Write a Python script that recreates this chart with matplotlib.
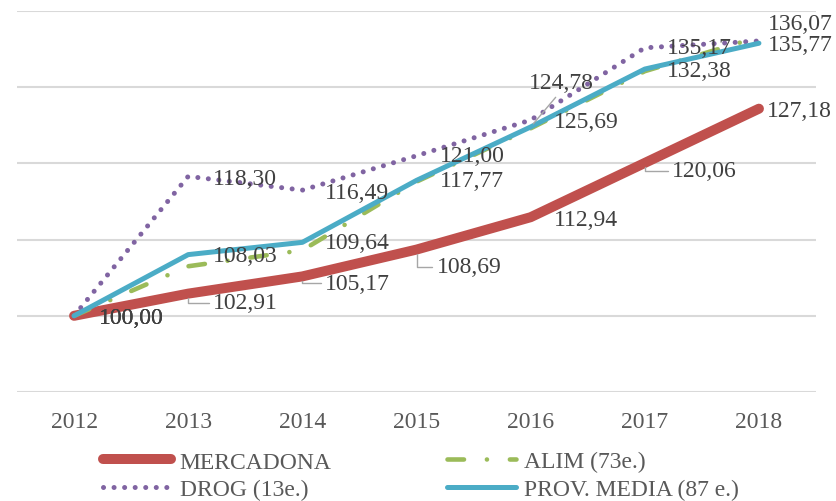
import matplotlib
matplotlib.use('Agg')
import matplotlib.pyplot as plt

plt.rcParams['font.family'] = ['Liberation Serif', 'DejaVu Serif']

years = ['2012', '2013', '2014', '2015', '2016', '2017', '2018']
mercadona = [100.00, 102.91, 105.17, 108.69, 112.94, 120.06, 127.18]
alim = [100.00, 106.5, 108.6, 117.6, 124.6, 132.1, 136.6]
drog = [100.00, 118.30, 116.49, 121.00, 125.69, 135.17, 136.07]
prov = [100.00, 108.03, 109.64, 117.77, 124.78, 132.38, 135.77]

names = ['MERCADONA', 'ALIM (73e.)', 'DROG (13e.)', 'PROV. MEDIA (87 e.)']

# label offsets in pixels (dx right, dy down) from each point
off_merc = [(25, 2), (25, 9), (23, 7), (20, 17), (23, 2), (27, 8), (8, 2)]
off_drog = [(25, 2), (25, 2), (23, 2), (23, 0), (23, 1), (22, 0), (9, -17)]
off_prov = [(25, 2), (25, 1), (23, 0), (23, 0), (-2, -44), (22, 1), (9, 1)]
leader_merc = [False, True, True, True, False, True, False]
leader_prov = [False, False, False, False, True, False, False]

fig = plt.figure(figsize=(8.36, 5.02), dpi=100)
ax = fig.add_axes([17 / 836, 1 - 393 / 502, 799 / 836, 381 / 502])

x = list(range(len(years)))

l_merc, = ax.plot(x, mercadona, color='#C0504D', lw=7.2, solid_capstyle='round',
                  solid_joinstyle='round', zorder=2)
l_alim, = ax.plot(x, alim, color='#9BBB59', lw=3.3, linestyle=(0, (3.6, 5.0, 0.01, 5.0)),
                  dash_capstyle='round', zorder=2.1)
l_drog, = ax.plot(x, drog, color='#8064A2', lw=3.6, linestyle=(0, (0.01, 2.1)),
                  dash_capstyle='round', zorder=2.2)
l_prov, = ax.plot(x, prov, color='#4BACC6', lw=3.6, solid_capstyle='round',
                  solid_joinstyle='round', zorder=2.3)

ax.set_xlim(-0.5, len(years) - 0.5)
ax.set_ylim(90, 140)
ax.set_yticks([90, 100, 110, 120, 130, 140])
ax.set_yticklabels([])
ax.set_xticks(x)
ax.set_xticklabels(years, fontsize=17, color='#595959')
ax.tick_params(axis='both', length=0)
ax.tick_params(axis='x', pad=14)
ax.grid(axis='y', color='#d9d9d9', lw=1.5)
ax.set_axisbelow(True)
for s in ax.spines.values():
    s.set_visible(False)


def fmt(v):
    return f'{v:.2f}'.replace('.', ',')


def add_labels(vals, offs, leaders=None, straight=False):
    for i, (v, (dx, dy)) in enumerate(zip(vals, offs)):
        kw = {}
        if leaders and leaders[i]:
            if straight:
                cs = 'arc3'
                rp = (0.48, 0.05)
            else:
                cs = 'angle,angleA=0,angleB=90,rad=0'
                rp = (0, 0.5)
            kw['arrowprops'] = dict(arrowstyle='-', color='#a6a6a6', lw=1,
                                    connectionstyle=cs, shrinkA=1, shrinkB=3,
                                    relpos=rp)
        ax.annotate(fmt(v), (x[i], v), xytext=(dx, -dy), textcoords='offset pixels',
                    ha='left', va='center', fontsize=17, color='#404040', zorder=5, **kw)


add_labels(mercadona, off_merc, leader_merc)
add_labels(drog, off_drog)
add_labels(prov, off_prov, leader_prov, straight=True)

fig.legend([l_merc, l_drog, l_alim, l_prov], [names[0], names[2], names[1], names[3]],
           loc='upper left', bbox_to_anchor=(103 / 836, 1 - 452 / 502), ncol=2,
           frameon=False, fontsize=17, labelcolor='#595959', handlelength=2.9,
           handletextpad=0.35, columnspacing=4.9, labelspacing=0.26,
           borderpad=0, borderaxespad=0)

fig.savefig('out.png', dpi=100)
